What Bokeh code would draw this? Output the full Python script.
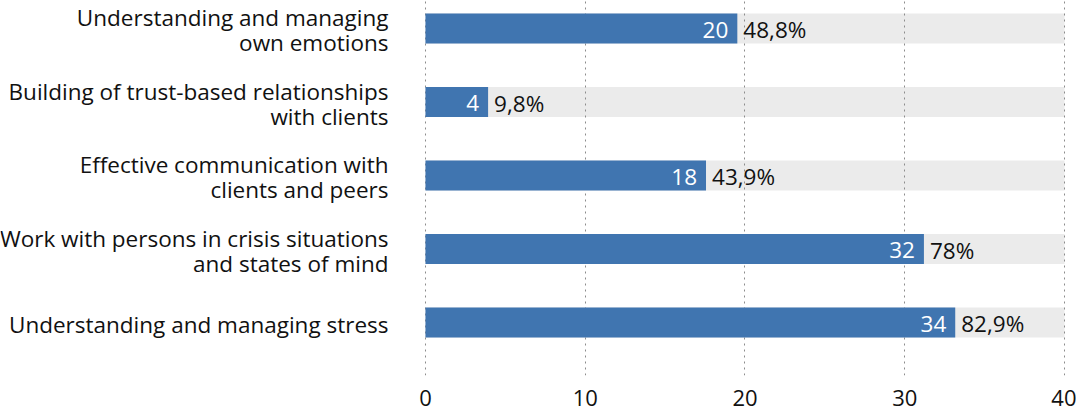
from bokeh.plotting import figure
from bokeh.models import ColumnDataSource, Range1d, FixedTicker, LabelSet
from bokeh.core.properties import value
from bokeh.embed import file_html
from bokeh.resources import INLINE

categories = [
    "Understanding and managing\nown emotions",
    "Building of trust-based relationships\nwith clients",
    "Effective communication with\nclients and peers",
    "Work with persons in crisis situations\nand states of mind",
    "Understanding and managing stress",
]
counts = [20, 4, 18, 32, 34]
percents = [48.8, 9.8, 43.9, 78.0, 82.9]
percent_labels = ["48,8%", "9,8%", "43,9%", "78%", "82,9%"]
x_ticks = [0, 10, 20, 30, 40]

FONT = "Open Sans"
full = x_ticks[-1]
n = len(categories)
ypos = [n - 1 - i for i in range(n)]
bar_end = [p_ / 100.0 * full for p_ in percents]

src = ColumnDataSource(dict(
    y=ypos, count=[str(c) for c in counts],
    end=bar_end, pct=percent_labels, full=[full] * n, zero=[0] * n,
))

# split the category labels into separate lines, spaced 25px apart
line_y, line_txt, line_off = [], [], []
LINE_GAP = 25
for yy, cat in zip(ypos, categories):
    parts = cat.split("\n")
    k = len(parts)
    for j, part in enumerate(parts):
        line_y.append(yy)
        line_txt.append(part)
        # LabelSet offsets: positive = upwards
        line_off.append(-((j - (k - 1) / 2.0) * LINE_GAP + 1.5))
lab_src = ColumnDataSource(dict(y=line_y, t=line_txt, off=line_off,
                                zero=[0] * len(line_y)))

p = figure(width=1076, height=411, output_backend="svg", toolbar_location=None,
           x_range=Range1d(-26.60, 40.75), y_range=Range1d(-0.721, 4.381),
           y_axis_location=None, min_border_left=0, min_border_right=0,
           min_border_top=0, min_border_bottom=36)
p.outline_line_color = None
p.background_fill_color = "white"

bh = 30 / 73.5
p.hbar(y="y", left="zero", right="full", height=bh, source=src,
       fill_color="#EBEBEB", line_color=None, level="image")
p.hbar(y="y", left="zero", right="end", height=bh, source=src,
       fill_color="#4075B0", line_color=None)

cat_labels = LabelSet(x="zero", y="y", text="t", source=lab_src, x_offset=-37,
                      y_offset="off", text_align="right", text_baseline="middle",
                      text_font=value(FONT), text_font_size="22.5px",
                      text_color="#111111")
p.add_layout(cat_labels)

p.text(x="end", y="y", text="count", source=src, x_offset=-9, y_offset=1,
       text_align="right", text_baseline="middle", text_font=value(FONT),
       text_font_size="22.5px", text_color="white")
p.text(x="end", y="y", text="pct", source=src, x_offset=6, y_offset=1,
       text_align="left", text_baseline="middle", text_font=value(FONT),
       text_font_size="22.5px", text_color="#111111")

ticker = FixedTicker(ticks=x_ticks)
p.xaxis.ticker = ticker
p.xaxis.axis_line_color = None
p.xaxis.major_tick_line_color = None
p.xaxis.minor_tick_line_color = None
p.xaxis.major_label_text_font = FONT
p.xaxis.major_label_text_font_size = "22px"
p.xaxis.major_label_text_color = "#111111"
p.xaxis.major_label_standoff = 8
p.xgrid.ticker = ticker
p.xgrid.grid_line_color = "#8C8C8C"
p.xgrid.grid_line_dash = "2 4"
p.xgrid.grid_line_width = 1
p.ygrid.visible = False

open("out.html", "w").write(file_html(p, INLINE))
